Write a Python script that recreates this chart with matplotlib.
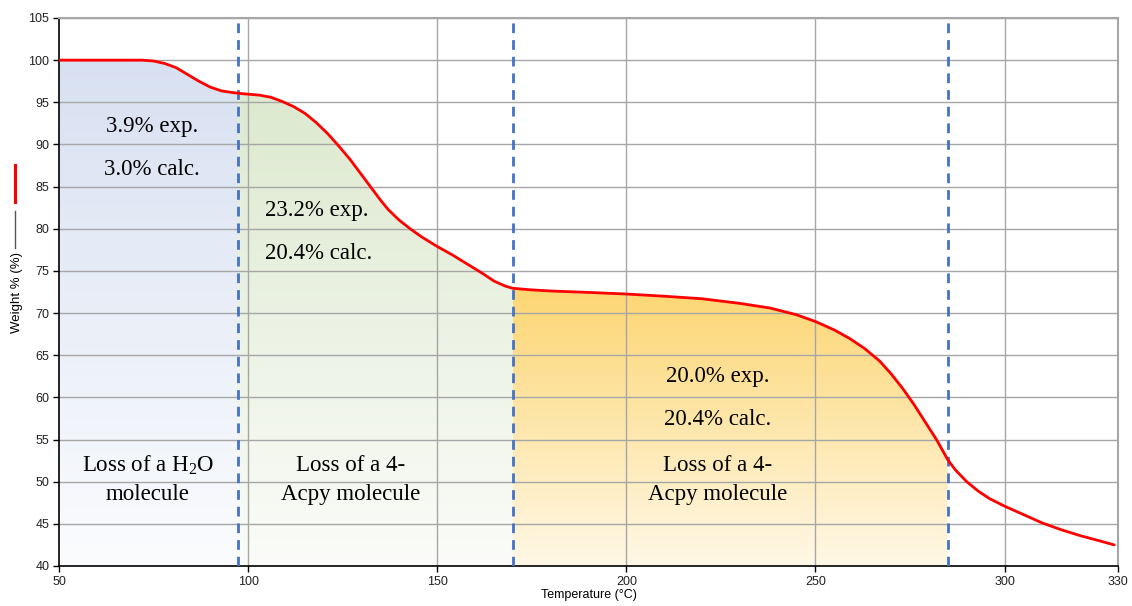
import numpy as np
import matplotlib
matplotlib.use("Agg")
import matplotlib.pyplot as plt
from matplotlib.colors import LinearSegmentedColormap
from matplotlib.lines import Line2D

# TGA trace: temperature (°C) and remaining weight (%)
temperature = [50, 72, 75, 78, 81, 84, 87, 90, 93, 96, 99, 103, 106, 109, 112,
               115, 118, 121, 124, 127, 130, 133, 135, 137, 140, 143, 146, 150,
               154, 158, 162, 165, 168, 170, 175, 180, 190, 200, 210, 220, 230,
               238, 245, 250, 255, 259, 263, 267, 270, 273, 276, 279, 282, 285,
               287, 290, 293, 296, 300, 305, 310, 315, 320, 325, 329]
weight = [100, 100, 99.9, 99.6, 99.1, 98.3, 97.5, 96.8, 96.35, 96.15, 96.0,
          95.85, 95.6, 95.1, 94.5, 93.7, 92.6, 91.3, 89.8, 88.2, 86.4, 84.6,
          83.4, 82.3, 81.0, 79.95, 79.0, 77.9, 76.9, 75.8, 74.7, 73.8, 73.2,
          72.94, 72.75, 72.62, 72.45, 72.26, 72.0, 71.7, 71.15, 70.6, 69.8,
          69.0, 68.0, 67.0, 65.8, 64.3, 62.8, 61.1, 59.2, 57.1, 55.0, 52.6,
          51.4, 50.0, 48.9, 48.0, 47.1, 46.1, 45.1, 44.3, 43.6, 43.0, 42.5]

# Decomposition step boundaries (°C)
step_bounds = [50, 97.4, 170, 285]
step_top_colors = ["#d8e1f2", "#dde9cf", "#fdd673"]
step_bottom_colors = ["#fbfcfe", "#fbfcf9", "#fff8e6"]

x_ticks = [50, 100, 150, 200, 250, 300, 330]
y_ticks = list(range(40, 106, 5))

plt.rcParams["mathtext.fontset"] = "custom"
plt.rcParams["mathtext.rm"] = "Liberation Serif"
plt.rcParams["mathtext.default"] = "regular"

fig = plt.figure(figsize=(11.32, 6.06), dpi=100)
ax = fig.add_axes([59 / 1132, 1 - 566 / 606, (1118 - 59) / 1132, (566 - 18) / 606])

T = np.array(temperature)
W = np.array(weight)


def curve_at(x):
    return np.interp(x, T, W)


# Gradient-filled areas under the curve for each step
for i in range(3):
    x0, x1 = step_bounds[i], step_bounds[i + 1]
    inside = (T > x0) & (T < x1)
    xs = np.concatenate([[x0], T[inside], [x1]])
    ys = curve_at(xs)
    top = ys.max()
    cmap = LinearSegmentedColormap.from_list(
        f"step{i}", [step_bottom_colors[i], step_top_colors[i]])
    grad = np.linspace(0, 1, 256).reshape(-1, 1)
    im = ax.imshow(grad, cmap=cmap, origin="lower", aspect="auto",
                   extent=[x0, x1, 40, top], zorder=1, interpolation="bilinear")
    poly = ax.fill_between(xs, 40, ys, color="none", lw=0)
    im.set_clip_path(poly.get_paths()[0], transform=ax.transData)

ax.set_xlim(50, 330)
ax.set_ylim(40, 105)

# Grid
for y in y_ticks[1:]:
    ax.axhline(y, color="#a6a6a6", lw=1.0, zorder=2)
for x in x_ticks[1:-1]:
    ax.axvline(x, color="#a6a6a6", lw=1.0, zorder=2)

# Step boundaries
for x in step_bounds[1:]:
    ax.axvline(x, color="#4472c4", lw=2.0, ls=(0, (3.5, 2.5)), zorder=3)

# Weight curve
ax.plot(T, W, color="#ff0000", lw=2.0, zorder=4, solid_capstyle="round",
        solid_joinstyle="round")

# Axes styling
for side in ("top", "right"):
    ax.spines[side].set_color("#a6a6a6")
    ax.spines[side].set_linewidth(1.5)
for side in ("left", "bottom"):
    ax.spines[side].set_color("black")
    ax.spines[side].set_linewidth(1.2)
ax.set_xticks(x_ticks)
ax.set_yticks(y_ticks)
ax.tick_params(direction="out", length=4, width=1, labelsize=9,
               colors="black", pad=3)
for lbl in ax.get_xticklabels() + ax.get_yticklabels():
    lbl.set_fontfamily("Liberation Sans")
    lbl.set_color("#222222")

ax.set_xlabel("Temperature (°C)", fontsize=9, family="Liberation Sans",
              labelpad=1)

# Y label with series key marks
fig.text(17 / 1132, 1 - 292 / 606, "Weight % (%)", rotation=90, fontsize=9.5,
         family="Liberation Sans", ha="center", va="center")
fig.add_artist(Line2D([15 / 1132, 15 / 1132], [1 - 165 / 606, 1 - 202 / 606],
                      color="#ff0000", lw=2.2, transform=fig.transFigure))
fig.add_artist(Line2D([15 / 1132, 15 / 1132], [1 - 211 / 606, 1 - 248 / 606],
                      color="#555555", lw=1.0, transform=fig.transFigure))

# Annotations
serif = dict(family="Liberation Serif", fontsize=16.5, color="black",
             va="center", zorder=5)
ax.text(74.6, 92.1, "3.9% exp.", ha="center", **serif)
ax.text(74.6, 87.0, "3.0% calc.", ha="center", **serif)
ax.text(104.5, 82.2, "23.2% exp.", ha="left", **serif)
ax.text(104.5, 77.1, "20.4% calc.", ha="left", **serif)
ax.text(224.2, 62.5, "20.0% exp.", ha="center", **serif)
ax.text(224.2, 57.4, "20.4% calc.", ha="center", **serif)

ax.text(73.5, 51.9, "Loss of a H$_2$O", ha="center", **serif)
ax.text(73.5, 48.5, "molecule", ha="center", **serif)
ax.text(127.0, 51.9, "Loss of a 4-", ha="center", **serif)
ax.text(127.0, 48.5, "Acpy molecule", ha="center", **serif)
ax.text(224.2, 51.9, "Loss of a 4-", ha="center", **serif)
ax.text(224.2, 48.5, "Acpy molecule", ha="center", **serif)

fig.savefig("out.png", dpi=100)
